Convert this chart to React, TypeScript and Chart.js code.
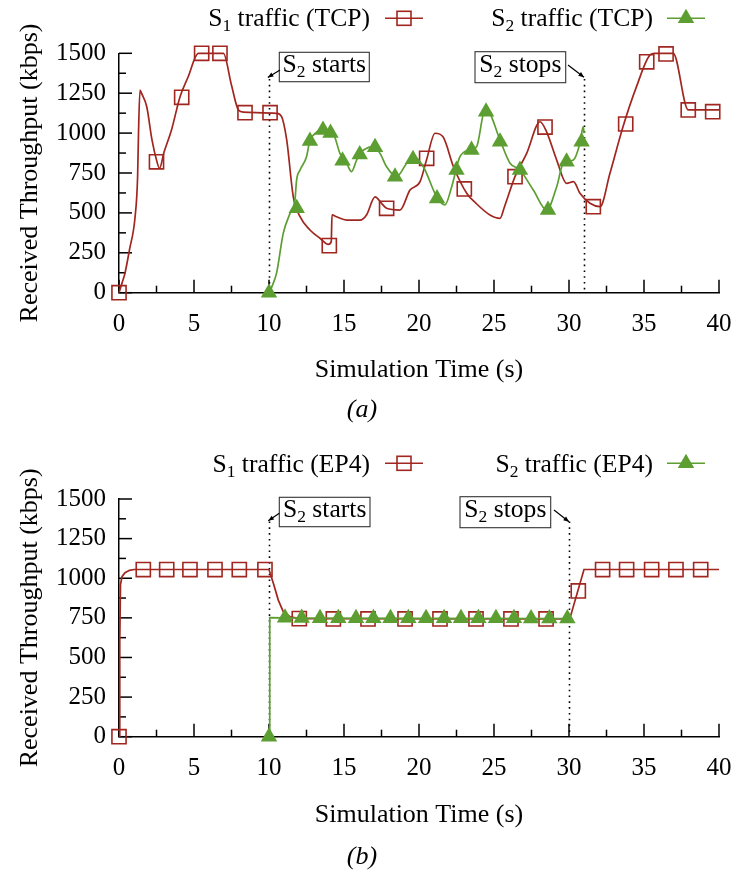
import React, { useEffect, useRef } from "react";
import { Chart, registerables } from "chart.js";

Chart.register(...registerables);

const RED = "#a0261f";
const GREEN = "#5c9e31";
const FONT = "'Liberation Serif', 'Times New Roman', serif";
Chart.defaults.font.family = FONT;
Chart.defaults.font.size = 25;
Chart.defaults.color = "#000";

// ---------- axis ranges / ticks ----------
const X_MIN = 0;
const X_MAX = 40;
const X_STEP = 5;
const Y_MIN = 0;
const Y_MAX = 1500;
const Y_STEP = 250;

// ---------- (a) TCP ----------
const tcpS1Line: [number, number][] = [
  [0, 0], [0.2, 60], [0.4, 123], [0.7, 270], [1.07, 473], [1.24, 727], [1.3, 1000],
  [1.4, 1270], [1.5, 1250], [1.85, 1165], [2.2, 957], [2.5, 831], [2.7, 779],
  [3.0, 880], [3.5, 1020], [4.07, 1228], [4.6, 1350], [5.29, 1500], [6.96, 1500],
  [7.5, 1300], [7.96, 1145], [8.3, 1131], [10.5, 1124], [10.84, 1103], [11.18, 957],
  [11.62, 601], [12.07, 476], [12.73, 393], [13.4, 341], [13.96, 303], [14.15, 320],
  [14.2, 487], [14.5, 476], [15.18, 455], [16.07, 455], [16.5, 487], [17.07, 601],
  [17.5, 560], [17.84, 529], [18.73, 518], [19.4, 643], [20.07, 696], [20.5, 831],
  [21.07, 999], [21.6, 977], [22.3, 789], [23.18, 623], [23.8, 560], [24.73, 487],
  [25.4, 466], [25.7, 539], [26.4, 727], [27.18, 873], [28.07, 1071], [28.5, 1009],
  [29.18, 831], [29.84, 685], [30.3, 696], [30.73, 623], [31.4, 560], [32.07, 539],
  [32.73, 748], [33.6, 1040], [34.5, 1291], [35.4, 1490], [35.7, 1500], [36.95, 1500],
  [37.95, 1145], [40, 1145],
];
const tcpS1Marks: [number, number][] = [
  [0, 0], [2.5, 820], [4.18, 1224], [5.51, 1500], [6.73, 1500], [8.4, 1128], [10.07, 1128],
  [14.02, 295], [17.84, 529], [20.51, 842], [23.02, 650], [26.4, 727], [28.4, 1038],
  [31.62, 539], [33.78, 1057], [35.18, 1447], [36.47, 1496], [37.95, 1145], [39.58, 1134],
];
const tcpS2Line: [number, number][] = [
  [10, 0], [10.2, 40], [10.5, 121], [10.95, 372], [11.4, 497], [11.73, 581], [11.84, 706],
  [12.07, 769], [12.5, 852], [12.73, 957], [13.0, 990], [13.4, 1019], [14.07, 1019],
  [14.3, 999], [14.73, 873], [15.18, 811], [15.5, 758], [15.84, 831], [16.07, 873],
  [16.3, 894], [16.96, 915], [17.4, 873], [17.84, 789], [18.5, 727], [19.18, 811],
  [19.62, 852], [20.29, 789], [21.18, 601], [21.73, 550], [22.18, 664], [22.73, 852],
  [23.4, 894], [23.84, 915], [24.4, 1145], [24.6, 1140], [25.4, 957], [26.07, 811],
  [26.73, 769], [27.62, 643], [28.51, 518], [29.18, 664], [29.62, 811], [30.29, 831],
  [30.73, 936], [30.95, 1040], [31.0, 1000],
];
const tcpS2Marks: [number, number][] = [
  [10, 0], [11.85, 529], [12.73, 950], [13.6, 1019], [14.1, 1000], [14.9, 826],
  [16.05, 866], [17.07, 912], [18.4, 727], [19.6, 836], [21.2, 591], [22.5, 769],
  [23.5, 894], [24.47, 1134], [25.4, 946], [26.73, 769], [28.6, 518], [29.84, 821],
  [30.84, 946],
];

// ---------- (b) EP4 ----------
const ep4S1Line: [number, number][] = [
  [0, 0], [0.05, 600], [0.1, 960], [0.2, 1010], [0.4, 1035], [0.7, 1050], [1.0, 1055],
  [10, 1055], [10.29, 968], [10.62, 862], [10.95, 789], [11.4, 757], [12.07, 745],
  [30.05, 743], [31.0, 1055], [40, 1055],
];
const ep4S1Marks: [number, number][] = [
  [0, 0], [1.62, 1055], [3.18, 1055], [4.73, 1055], [6.4, 1055], [8.02, 1055], [9.73, 1055],
  [12.02, 745], [14.29, 743], [16.6, 743], [19.07, 743], [21.4, 743], [23.8, 743],
  [26.13, 743], [28.47, 743], [30.62, 920], [32.24, 1055], [33.84, 1055], [35.51, 1055],
  [37.13, 1055], [38.78, 1055],
];
const ep4S2Line: [number, number][] = [
  [10, 0], [10.05, 752], [12, 749], [20, 747], [30, 746],
];
const ep4S2Marks: [number, number][] = [
  [10, 0], [11.07, 750], [12.18, 749], [13.4, 748], [14.62, 748], [15.8, 748], [16.96, 747],
  [18.1, 747], [19.29, 747], [20.47, 747], [21.67, 747], [22.8, 747], [23.96, 747],
  [25.13, 747], [26.33, 747], [27.47, 746], [28.69, 746], [29.89, 746],
];

// ---------- text ----------
const X_TITLE = "Simulation Time (s)";
const Y_TITLE = "Received Throughput (kbps)";
type Part = { t: string; sub?: boolean };
const legendA: Part[][] = [
  [{ t: "S" }, { t: "1", sub: true }, { t: " traffic (TCP)" }],
  [{ t: "S" }, { t: "2", sub: true }, { t: " traffic (TCP)" }],
];
const legendB: Part[][] = [
  [{ t: "S" }, { t: "1", sub: true }, { t: " traffic (EP4)" }],
  [{ t: "S" }, { t: "2", sub: true }, { t: " traffic (EP4)" }],
];
const startsText: Part[] = [{ t: "S" }, { t: "2", sub: true }, { t: " starts" }];
const stopsText: Part[] = [{ t: "S" }, { t: "2", sub: true }, { t: " stops" }];
const startTimeA = 10;
const stopTimeA = 31;
const startTimeB = 10;
const stopTimeB = 30;

const toXY = (arr: [number, number][]) => arr.map(([x, y]) => ({ x, y }));

function drawRich(ctx: CanvasRenderingContext2D, parts: Part[], x: number, base: number, align: "left" | "right" | "center") {
  const main = `25.6px ${FONT}`;
  const sub = `17.5px ${FONT}`;
  let w = 0;
  for (const p of parts) {
    ctx.font = p.sub ? sub : main;
    w += ctx.measureText(p.t).width;
  }
  let cx = align === "right" ? x - w : align === "center" ? x - w / 2 : x;
  ctx.textAlign = "left";
  ctx.textBaseline = "alphabetic";
  for (const p of parts) {
    ctx.font = p.sub ? sub : main;
    ctx.fillText(p.t, cx, base + (p.sub ? 5 : 0));
    cx += ctx.measureText(p.t).width;
  }
}

function drawSquare(ctx: CanvasRenderingContext2D, cx: number, cy: number) {
  ctx.save();
  ctx.strokeStyle = RED;
  ctx.lineWidth = 1.6;
  ctx.strokeRect(cx - 7, cy - 7, 14, 14);
  ctx.restore();
}
function drawTriangle(ctx: CanvasRenderingContext2D, cx: number, cy: number) {
  const r = 9.5;
  ctx.save();
  ctx.fillStyle = GREEN;
  ctx.beginPath();
  ctx.moveTo(cx, cy - r);
  ctx.lineTo(cx + r * Math.sin((2 * Math.PI) / 3), cy + r / 2);
  ctx.lineTo(cx - r * Math.sin((2 * Math.PI) / 3), cy + r / 2);
  ctx.closePath();
  ctx.fill();
  ctx.restore();
}

function drawArrow(ctx: CanvasRenderingContext2D, x0: number, y0: number, x1: number, y1: number) {
  ctx.save();
  ctx.strokeStyle = "#000";
  ctx.fillStyle = "#000";
  ctx.lineWidth = 1.2;
  ctx.beginPath();
  ctx.moveTo(x0, y0);
  ctx.lineTo(x1, y1);
  ctx.stroke();
  const a = Math.atan2(y1 - y0, x1 - x0);
  const L = 6;
  ctx.beginPath();
  ctx.moveTo(x1, y1);
  ctx.lineTo(x1 - L * Math.cos(a - 0.4), y1 - L * Math.sin(a - 0.4));
  ctx.lineTo(x1 - L * Math.cos(a + 0.4), y1 - L * Math.sin(a + 0.4));
  ctx.closePath();
  ctx.fill();
  ctx.restore();
}

type Box = { parts: Part[]; l: number; t: number; r: number; b: number; from: [number, number]; to: [number, number] };

type Decor = {
  legend: Part[][];
  legendBase: number;
  sampleY: number;
  vlines: { x: number; top: number }[];
  boxes: Box[];
  caption: string;
  captionY: number;
};

function makeDecor(d: Decor) {
  return {
    id: "decor",
    beforeDatasetsDraw(chart: any) {
      const { ctx, chartArea: ca, scales } = chart;
      const x = scales.x;
      const y = scales.y;
      ctx.save();
      // dotted event lines
      ctx.strokeStyle = "#000";
      ctx.lineWidth = 1.6;
      ctx.setLineDash([1.6, 4.2]);
      for (const v of d.vlines) {
        const px = Math.round(x.getPixelForValue(v.x)) + 0.5;
        ctx.beginPath();
        ctx.moveTo(px, v.top);
        ctx.lineTo(px, ca.bottom);
        ctx.stroke();
      }
      ctx.setLineDash([]);
      // inward ticks
      ctx.lineWidth = 1.5;
      for (let v = X_MIN; v <= X_MAX + 1e-9; v += X_STEP / 2) {
        const major = Math.abs(v / X_STEP - Math.round(v / X_STEP)) < 1e-6;
        const px = x.getPixelForValue(v);
        ctx.beginPath();
        ctx.moveTo(px, ca.bottom);
        ctx.lineTo(px, ca.bottom - (major ? 13 : 7));
        ctx.stroke();
      }
      for (let v = Y_MIN; v <= Y_MAX + 1e-9; v += Y_STEP / 2) {
        const major = Math.abs(v / Y_STEP - Math.round(v / Y_STEP)) < 1e-6;
        const py = y.getPixelForValue(v);
        ctx.beginPath();
        ctx.moveTo(ca.left, py);
        ctx.lineTo(ca.left + (major ? 13 : 7), py);
        ctx.stroke();
      }
      ctx.restore();
    },
    afterDraw(chart: any) {
      const { ctx } = chart;
      ctx.save();
      ctx.fillStyle = "#000";
      // legend
      drawRich(ctx, d.legend[0], 370, d.legendBase, "right");
      ctx.strokeStyle = RED;
      ctx.lineWidth = 1.6;
      ctx.beginPath();
      ctx.moveTo(385, d.sampleY);
      ctx.lineTo(423, d.sampleY);
      ctx.stroke();
      drawSquare(ctx, 404, d.sampleY);
      ctx.fillStyle = "#000";
      drawRich(ctx, d.legend[1], 653, d.legendBase, "right");
      ctx.strokeStyle = GREEN;
      ctx.beginPath();
      ctx.moveTo(667, d.sampleY);
      ctx.lineTo(705, d.sampleY);
      ctx.stroke();
      drawTriangle(ctx, 686, d.sampleY);
      // boxes
      for (const b of d.boxes) {
        ctx.fillStyle = "#fff";
        ctx.fillRect(b.l, b.t, b.r - b.l, b.b - b.t);
        ctx.strokeStyle = "#333";
        ctx.lineWidth = 1.1;
        ctx.strokeRect(b.l, b.t, b.r - b.l, b.b - b.t);
        ctx.fillStyle = "#000";
        drawRich(ctx, b.parts, (b.l + b.r) / 2, b.t + 20, "center");
        drawArrow(ctx, b.from[0], b.from[1], b.to[0], b.to[1]);
      }
      // caption
      ctx.fillStyle = "#000";
      ctx.font = `italic 26px ${FONT}`;
      ctx.textAlign = "center";
      ctx.textBaseline = "middle";
      ctx.fillText(d.caption, 362, d.captionY);
      ctx.restore();
    },
  };
}

function buildConfig(opts: {
  s1Line: [number, number][];
  s1Marks: [number, number][];
  s2Line: [number, number][];
  s2Marks: [number, number][];
  smooth: boolean;
  top: number;
  xAxisH: number;
  xTitlePad: number;
  decor: Decor;
}): any {
  const tickFont = { family: FONT, size: 25 };
  const titleFont = { family: FONT, size: 26 };
  const lineBase = {
    pointRadius: 0,
    borderWidth: 1.7,
    fill: false,
    clip: false as any,
    tension: 0,
    cubicInterpolationMode: opts.smooth ? ("monotone" as const) : ("default" as const),
  };
  return {
    type: "line",
    data: {
      datasets: [
        { ...lineBase, data: toXY(opts.s1Line), borderColor: RED, order: 4 },
        {
          data: toXY(opts.s1Marks), showLine: false, pointStyle: "rect", pointRadius: 10,
          pointBorderWidth: 1.6, pointBorderColor: RED, pointBackgroundColor: "rgba(0,0,0,0)",
          borderColor: RED, clip: false, order: 3,
        },
        { ...lineBase, data: toXY(opts.s2Line), borderColor: GREEN, order: 2 },
        {
          data: toXY(opts.s2Marks), showLine: false, pointStyle: "triangle", pointRadius: 9.5,
          pointBorderWidth: 0, pointBackgroundColor: GREEN, pointBorderColor: GREEN,
          borderColor: GREEN, clip: false, order: 1,
        },
      ],
    },
    options: {
      responsive: false,
      animation: false,
      events: [],
      layout: { autoPadding: false, padding: { top: opts.top, right: 18, left: 0, bottom: 0 } },
      plugins: { legend: { display: false }, tooltip: { enabled: false } },
      scales: {
        x: {
          type: "linear",
          min: X_MIN,
          max: X_MAX,
          ticks: {
            stepSize: X_STEP, font: tickFont, color: "#000", padding: 17, maxRotation: 0, autoSkip: false,
            callback: (v: any) => String(v),
          },
          grid: { display: false, drawTicks: false, tickLength: 0 },
          border: { display: true, color: "#000", width: 1.5 },
          title: {
            display: true, text: X_TITLE, color: "#000", font: titleFont,
            padding: { top: 0, bottom: opts.xTitlePad },
          },
          afterFit: (s: any) => {
            s.height = opts.xAxisH;
            s.paddingLeft = 0;
            s.paddingRight = 0;
          },
        },
        y: {
          type: "linear",
          min: Y_MIN,
          max: Y_MAX,
          ticks: { stepSize: Y_STEP, font: tickFont, color: "#000", padding: 13, callback: (v: any) => String(v) },
          grid: { display: false, drawTicks: false, tickLength: 0 },
          border: { display: true, color: "#000", width: 1.5 },
          title: {
            display: true, text: Y_TITLE, color: "#000", font: titleFont,
            padding: { top: 14.5, bottom: 0 },
          },
          afterFit: (s: any) => {
            s.width = 119;
            s.paddingTop = 0;
            s.paddingBottom = 0;
          },
        },
      },
    },
    plugins: [makeDecor(opts.decor)],
  };
}

function ChartCanvas({ config }: { config: () => any }) {
  const ref = useRef<HTMLCanvasElement | null>(null);
  useEffect(() => {
    if (!ref.current) return;
    const c = new Chart(ref.current, config());
    return () => c.destroy();
  }, []);
  return <canvas ref={ref} width={737} height={437} style={{ display: "block", width: 737, height: 437 }} />;
}

export default function App() {
  const cfgA = () =>
    buildConfig({
      s1Line: tcpS1Line, s1Marks: tcpS1Marks, s2Line: tcpS2Line, s2Marks: tcpS2Marks,
      smooth: true, top: 53.3, xAxisH: 144.3, xTitlePad: 51,
      decor: {
        legend: legendA, legendBase: 26, sampleY: 18.3,
        vlines: [{ x: startTimeA, top: 79 }, { x: stopTimeA, top: 79 }],
        boxes: [
          { parts: startsText, l: 279.3, t: 52.3, r: 369.3, b: 81.7, from: [280, 70], to: [267.8, 77.5] },
          { parts: stopsText, l: 475, t: 51.7, r: 565.7, b: 82.7, from: [568, 65], to: [584, 77.3] },
        ],
        caption: "(a)", captionY: 410,
      },
    });
  const cfgB = () =>
    buildConfig({
      s1Line: ep4S1Line, s1Marks: ep4S1Marks, s2Line: ep4S2Line, s2Marks: ep4S2Marks,
      smooth: false, top: 62, xAxisH: 137.3, xTitlePad: 43,
      decor: {
        legend: legendB, legendBase: 34.7, sampleY: 26.3,
        vlines: [{ x: startTimeB, top: 84.5 }, { x: stopTimeB, top: 84.5 }],
        boxes: [
          { parts: startsText, l: 279.3, t: 60.3, r: 370, b: 89.7, from: [279.3, 76.3], to: [268.3, 83.7] },
          { parts: stopsText, l: 460, t: 59.7, r: 550.7, b: 90.7, from: [554, 73], to: [569, 84.7] },
        ],
        caption: "(b)", captionY: 420,
      },
    });
  return (
    <div style={{ position: "absolute", left: 0, top: 0, width: 737, height: 874, background: "#fff" }}>
      <ChartCanvas config={cfgA} />
      <ChartCanvas config={cfgB} />
    </div>
  );
}
